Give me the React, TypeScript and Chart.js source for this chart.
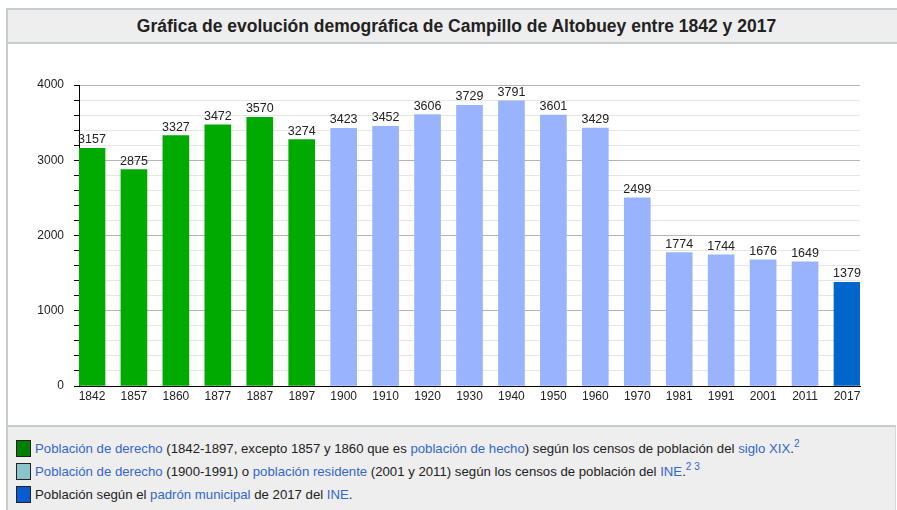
import React, { useEffect, useRef } from "react";
import { Chart, registerables } from "chart.js";

Chart.register(...registerables);

const years = ["1842", "1857", "1860", "1877", "1887", "1897", "1900", "1910", "1920", "1930", "1940", "1950", "1960", "1970", "1981", "1991", "2001", "2011", "2017"];
const population = [3157, 2875, 3327, 3472, 3570, 3274, 3423, 3452, 3606, 3729, 3791, 3601, 3429, 2499, 1774, 1744, 1676, 1649, 1379];
const seriesGroup = ["xix", "xix", "xix", "xix", "xix", "xix", "ine", "ine", "ine", "ine", "ine", "ine", "ine", "ine", "ine", "ine", "ine", "ine", "padron"];
const yTicks = [0, 1000, 2000, 3000, 4000];

const barColors: Record<string, string> = { xix: "#00aa00", ine: "#99b3ff", padron: "#0066cc" };
const FONT = '"Liberation Sans", Arial, Helvetica, sans-serif';
const LINK = "#3366cc";
const TEXT = "#222222";

const valueLabels = {
  id: "valueLabels",
  afterDatasetsDraw(chart: any) {
    const ctx = chart.ctx;
    const meta = chart.getDatasetMeta(0);
    ctx.save();
    ctx.font = `12.5px ${FONT}`;
    ctx.fillStyle = TEXT;
    ctx.textAlign = "center";
    ctx.textBaseline = "alphabetic";
    meta.data.forEach((el: any, i: number) => {
      ctx.fillText(String(population[i]), el.x, el.y - 5);
    });
    ctx.restore();
  },
};

export default function App() {
  const ref = useRef<HTMLCanvasElement | null>(null);

  useEffect(() => {
    if (!ref.current) return;
    const chart = new Chart(ref.current, {
      type: "bar",
      data: {
        datasets: [
          {
            data: population.map((v, i) => ({ x: i, y: v })) as any,
            backgroundColor: seriesGroup.map((g) => barColors[g]),
            barThickness: 26,
            borderWidth: 0,
          },
        ],
      },
      options: {
        animation: false,
        responsive: false,
        devicePixelRatio: 1,
        layout: { padding: { top: 42, right: 37, left: 0, bottom: 0 } },
        plugins: { legend: { display: false }, tooltip: { enabled: false } },
        scales: {
          x: {
            type: "linear",
            offset: false,
            min: -0.31,
            max: 18.31,
            afterFit: (s: any) => {
              s.height = 39;
            },
            grid: { display: false, drawTicks: false },
            border: { display: true, color: "#000", width: 1 },
            ticks: {
              stepSize: 1,
              includeBounds: false,
              autoSkip: false,
              maxRotation: 0,
              padding: 3,
              color: TEXT,
              font: { family: FONT, size: 12 },
              callback: (v: any) => (Number.isInteger(v) && years[v] ? years[v] : ""),
            },
          },
          y: {
            min: 0,
            max: 4000,
            afterFit: (s: any) => {
              s.width = 79;
            },
            grid: {
              color: (c: any) => (c.tick && c.tick.value % 1000 === 0 ? "#b4b4b4" : "#e6e6e6"),
              tickColor: "#000",
              tickLength: 5,
            },
            border: { display: true, color: "#000", width: 1 },
            ticks: {
              stepSize: 200,
              autoSkip: false,
              padding: 10,
              color: TEXT,
              font: { family: FONT, size: 12 },
              callback: (v: any) => (yTicks.includes(v) ? String(v) : ""),
            },
          },
        },
      },
      plugins: [valueLabels],
    });
    return () => chart.destroy();
  }, []);

  const link = { color: LINK };
  const sq = (bg: string) => ({
    position: "absolute" as const,
    left: 16,
    width: 15,
    height: 17,
    background: bg,
    border: "1px solid #222",
    boxSizing: "border-box" as const,
  });
  const line = (top: number) => ({
    position: "absolute" as const,
    left: 35,
    top,
    fontFamily: FONT,
    fontSize: 13.2,
    color: TEXT,
    whiteSpace: "nowrap" as const,
    lineHeight: "17px",
  });
  const sup = { fontSize: 10, position: "relative" as const, top: -6, color: LINK };

  return (
    <div style={{ position: "absolute", left: 0, top: 0, width: 897, height: 510, background: "#fff", overflow: "hidden" }}>
      {/* frame */}
      <div style={{ position: "absolute", left: 6, top: 8, width: 900, height: 510, borderLeft: "2px solid #c8ccd1", borderTop: "2px solid #c8ccd1", boxSizing: "border-box" }} />
      {/* title bar */}
      <div style={{ position: "absolute", left: 8, top: 10, width: 897, height: 32, background: "#eeeeee", borderBottom: "2px solid #c8ccd1", display: "flex", alignItems: "center", justifyContent: "center", paddingRight: 6, boxSizing: "content-box" }}>
        <span style={{ fontFamily: FONT, fontWeight: "bold", fontSize: 17.5, color: TEXT, marginLeft: 0 }}>
          Gráfica de evolución demográfica de Campillo de Altobuey entre 1842 y 2017
        </span>
      </div>
      {/* legend area */}
      <div style={{ position: "absolute", left: 8, top: 425, width: 887, height: 90, background: "#eeeeee", borderTop: "2px solid #c8ccd1", borderRight: "1px solid #d8d8d8" }} />
      <div style={{ ...sq("#008000"), top: 440 }} />
      <div style={{ ...sq("#8cc4cc"), top: 463 }} />
      <div style={{ ...sq("#0a5bd0"), top: 486 }} />
      <div style={line(440)}>
        <span style={link}>Población de derecho</span> (1842-1897, excepto 1857 y 1860 que es{" "}
        <span style={link}>población de hecho</span>) según los censos de población del{" "}
        <span style={link}>siglo XIX</span>.<span style={sup}>2</span>
      </div>
      <div style={line(463)}>
        <span style={link}>Población de derecho</span> (1900-1991) o <span style={link}>población residente</span> (2001 y 2011) según los censos de población del{" "}
        <span style={link}>INE</span>.<span style={sup}>2 3</span>
      </div>
      <div style={line(486)}>
        Población según el <span style={link}>padrón municipal</span> de 2017 del <span style={link}>INE</span>.
      </div>
      <canvas ref={ref} width={897} height={382} style={{ position: "absolute", left: 0, top: 43, width: 897, height: 382 }} />
    </div>
  );
}
